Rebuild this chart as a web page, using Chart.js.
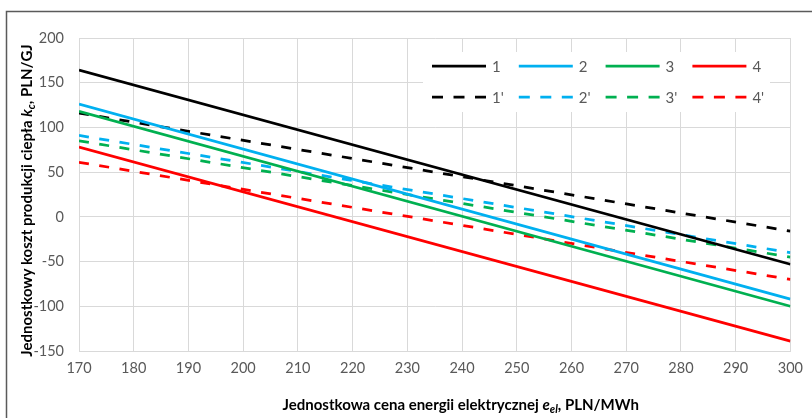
<!DOCTYPE html>
<html>
<head>
<meta charset="utf-8">
<script src="https://cdn.jsdelivr.net/npm/chart.js@4/dist/chart.umd.min.js"></script>
<style>
  html, body { margin: 0; padding: 0; background: #ffffff; }
  #wrap { width: 812px; height: 418px; position: relative; }
</style>
</head>
<body>
<div id="wrap"><canvas id="chart" width="812" height="418"></canvas></div>
<script>
// Electricity price (PLN/MWh) at the ends of each line
const prices = [170, 300];

// Unit heat production cost k_c (PLN/GJ)
const cost1 = [164, -53];
const cost2 = [126, -92];
const cost3 = [118, -100];
const cost4 = [78, -139];
const cost1p = [116, -16];
const cost2p = [91, -40];
const cost3p = [85, -45];
const cost4p = [61, -70];

const seriesNames = ['1', '2', '3', '4', "1'", "2'", "3'", "4'"];
const seriesColors = ['#000000', '#00B0F0', '#00B050', '#FF0000'];

const xRange = { min: 170, max: 300, step: 10 };
const yRange = { min: -150, max: 200, step: 50 };

const FONT = 'Lato, "Open Sans", sans-serif';
const GREY = '#595959';
const DASH = [10, 10.5];

function pts(ys) { return prices.map((x, i) => ({ x: x, y: ys[i] })); }

const allValues = [cost1, cost2, cost3, cost4, cost1p, cost2p, cost3p, cost4p];

const datasets = allValues.map((vals, i) => ({
  label: seriesNames[i],
  data: pts(vals),
  borderColor: seriesColors[i % 4],
  backgroundColor: seriesColors[i % 4],
  borderWidth: 2.75,
  borderDash: i >= 4 ? DASH : [],
  pointRadius: 0,
  fill: false,
  tension: 0
}));

// Rich text with italic symbols and subscripts
function drawRich(ctx, segs, x, y) {
  let total = 0;
  const widths = segs.map(s => {
    ctx.font = s.font;
    const w = ctx.measureText(s.t).width;
    total += w;
    return w;
  });
  let cx = x - total / 2;
  segs.forEach((s, i) => {
    ctx.font = s.font;
    ctx.fillText(s.t, cx, y + (s.dy || 0));
    cx += widths[i];
  });
}

const titlesPlugin = {
  id: 'axisTitles',
  afterDraw(chart) {
    const ctx = chart.ctx;
    const B = 'bold 15px ' + FONT;
    const BI = 'italic bold 15px ' + FONT;
    const SUB = 'italic bold 11px ' + FONT;
    ctx.save();
    ctx.fillStyle = '#000000';
    ctx.textBaseline = 'middle';
    ctx.textAlign = 'left';
    // x axis title
    drawRich(ctx, [
      { t: 'Jednostkowa cena energii elektrycznej ', font: B },
      { t: 'e', font: BI },
      { t: 'el', font: SUB, dy: 4 },
      { t: ', PLN/MWh', font: B }
    ], (chart.chartArea.left + chart.chartArea.right) / 2 + 26, 405);
    // y axis title
    ctx.translate(27, (chart.chartArea.top + chart.chartArea.bottom) / 2 + 6);
    ctx.rotate(-Math.PI / 2);
    drawRich(ctx, [
      { t: 'Jednostkowy koszt produkcji ciepła ', font: B },
      { t: 'k', font: BI },
      { t: 'c', font: SUB, dy: 4 },
      { t: ', PLN/GJ', font: B }
    ], 0, 0);
    ctx.restore();

    // outer frame
    ctx.save();
    ctx.strokeStyle = '#5a5a5a';
    ctx.lineWidth = 1.5;
    ctx.beginPath();
    ctx.moveTo(6.5, 418);
    ctx.lineTo(6.5, 11.5);
    ctx.lineTo(812, 11.5);
    ctx.stroke();
    ctx.restore();
  }
};

// Legend inside the plot: two rows, four columns
const legendPlugin = {
  id: 'innerLegend',
  afterDatasetsDraw(chart) {
    const ctx = chart.ctx;
    const box = { x: 423, y: 52, w: 347, h: 60 };
    ctx.save();
    ctx.fillStyle = '#ffffff';
    ctx.fillRect(box.x, box.y, box.w, box.h);
    ctx.font = '15px ' + FONT;
    ctx.textBaseline = 'middle';
    ctx.textAlign = 'left';
    chart.data.datasets.forEach((ds, i) => {
      const col = i % 4, row = Math.floor(i / 4);
      const x0 = 432 + col * 86.8;
      const y0 = 66 + row * 31;
      ctx.strokeStyle = ds.borderColor;
      ctx.lineWidth = 2.75;
      ctx.setLineDash(row ? [11, 10.5] : []);
      ctx.beginPath();
      ctx.moveTo(x0, y0);
      ctx.lineTo(x0 + 54, y0);
      ctx.stroke();
      ctx.setLineDash([]);
      ctx.fillStyle = GREY;
      ctx.fillText(ds.label, x0 + 60, y0 + 1);
    });
    ctx.restore();
  }
};

new Chart(document.getElementById('chart'), {
  type: 'line',
  data: { datasets: datasets },
  options: {
    responsive: false,
    animation: false,
    devicePixelRatio: 1,
    layout: { padding: { top: 38, right: 14, left: 0, bottom: 0 } },
    plugins: { legend: { display: false }, tooltip: { enabled: false } },
    scales: {
      x: {
        type: 'linear',
        min: xRange.min, max: xRange.max,
        ticks: { stepSize: xRange.step, color: GREY, font: { family: FONT, size: 14.5 }, padding: 9, maxRotation: 0 },
        grid: { color: '#d9d9d9', lineWidth: 1, drawTicks: false },
        border: { color: '#d9d9d9' },
        afterFit(s) { s.height = 67; }
      },
      y: {
        type: 'linear',
        min: yRange.min, max: yRange.max,
        ticks: { stepSize: yRange.step, color: GREY, font: { family: FONT, size: 14.5 }, padding: 15 },
        grid: { color: '#d9d9d9', lineWidth: 1, drawTicks: false },
        border: { color: '#d9d9d9' },
        afterFit(s) { s.width = 79; }
      }
    }
  },
  plugins: [legendPlugin, titlesPlugin]
});
</script>
</body>
</html>
